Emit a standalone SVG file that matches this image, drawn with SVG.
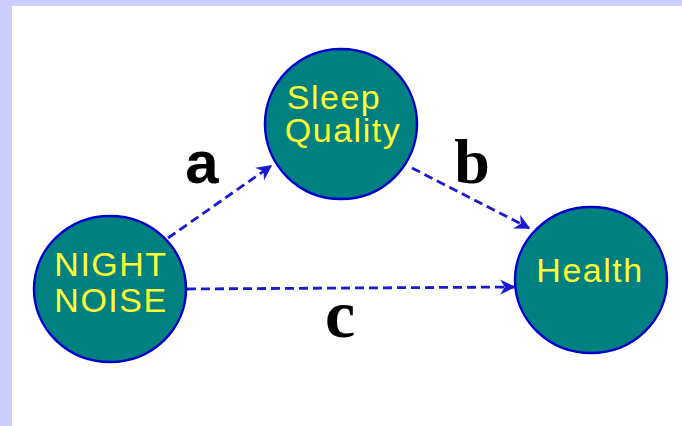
<svg xmlns="http://www.w3.org/2000/svg" width="682" height="426" viewBox="0 0 682 426">
<defs>
<style>
.node{fill:#008080;stroke:#0000cc;stroke-width:2.5}
.nt{fill:#ffff33;font-family:"Liberation Sans",Arial,sans-serif;font-size:34px;letter-spacing:1.5px;text-anchor:middle}
.edge{stroke:#1a1ad0;stroke-width:2.8;stroke-dasharray:9 5;fill:none}
.lbl{fill:#000;font-weight:bold;text-anchor:middle}
.sans{font-family:"Liberation Sans",Arial,sans-serif}
.serif{font-family:"Liberation Serif","Times New Roman",serif}
</style>
<marker id="ah" viewBox="0 0 10 10" refX="9" refY="5" markerWidth="5.5" markerHeight="5.5" orient="auto" markerUnits="strokeWidth">
<path d="M0,0 L10,5 L0,10 L3,5 Z" fill="#1a1ad0"/>
</marker>
</defs>
<rect x="0" y="0" width="682" height="426" fill="#ccccff"/>
<rect x="12" y="6" width="670" height="420" fill="#ffffff"/>
<g id="connectors">
<line class="edge" x1="168" y1="238" x2="271" y2="166" marker-end="url(#ah)"/>
<line class="edge" x1="412" y1="168" x2="529" y2="228" marker-end="url(#ah)"/>
<line class="edge" x1="187" y1="289" x2="514" y2="287" marker-end="url(#ah)"/>
</g>
<g id="node-night-noise">
<ellipse class="node" cx="110" cy="289" rx="76" ry="73"/>
<text class="nt" x="111" y="276">NIGHT</text>
<text class="nt" x="111" y="312">NOISE</text>
</g>
<g id="node-sleep-quality">
<ellipse class="node" cx="341" cy="124" rx="76" ry="75"/>
<text class="nt" x="334" y="109">Sleep</text>
<text class="nt" x="343" y="142">Quality</text>
</g>
<g id="node-health">
<ellipse class="node" cx="591" cy="280" rx="76" ry="73"/>
<text class="nt" x="590" y="282">Health</text>
</g>
<g id="labels">
<text class="lbl sans" x="202" y="183" font-size="60">a</text>
<text class="lbl serif" x="472" y="183" font-size="64">b</text>
<text class="lbl serif" x="340" y="337" font-size="68">c</text>
</g>
</svg>
